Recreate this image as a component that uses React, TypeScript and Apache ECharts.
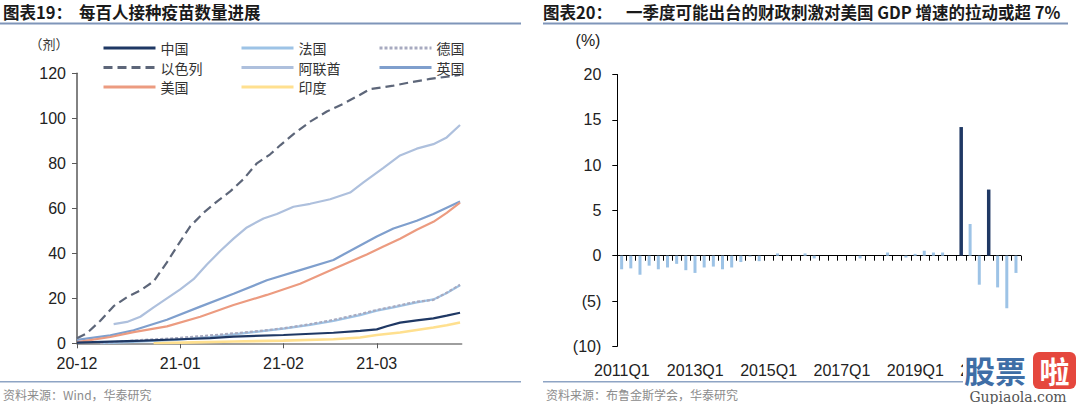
import React, { useEffect, useRef } from "react";
import * as echarts from "echarts";

// ---------- Left chart: doses per 100 people ----------
const israel: [string, number][] = [
  ["2020-12-20", 2.2], ["2020-12-23", 4.5], ["2020-12-27", 10], ["2020-12-31", 16.5],
  ["2021-01-04", 20.5], ["2021-01-08", 23.5], ["2021-01-12", 27.5], ["2021-01-16", 36],
  ["2021-01-19", 43], ["2021-01-23", 52], ["2021-01-27", 58], ["2021-01-31", 63],
  ["2021-02-04", 67.5], ["2021-02-08", 73], ["2021-02-12", 80], ["2021-02-16", 84],
  ["2021-02-19", 88], ["2021-02-23", 93], ["2021-02-28", 98.5], ["2021-03-05", 103],
  ["2021-03-10", 106.5], ["2021-03-15", 110.5], ["2021-03-18", 113], ["2021-03-25", 114.5],
  ["2021-03-30", 116], ["2021-04-05", 117.5], ["2021-04-14", 119.3],
];
const uae: [string, number][] = [
  ["2020-12-31", 8.5], ["2021-01-04", 9.5], ["2021-01-08", 11.8], ["2021-01-12", 16],
  ["2021-01-16", 20], ["2021-01-20", 24], ["2021-01-24", 28.5], ["2021-01-28", 35],
  ["2021-02-01", 41], ["2021-02-05", 46.5], ["2021-02-09", 51.5], ["2021-02-14", 55.5],
  ["2021-02-18", 57.5], ["2021-02-23", 60.7], ["2021-02-28", 62], ["2021-03-06", 64],
  ["2021-03-12", 67], ["2021-03-16", 71.5], ["2021-03-22", 78], ["2021-03-27", 83.5],
  ["2021-04-01", 86.5], ["2021-04-06", 88.5], ["2021-04-10", 91.5], ["2021-04-14", 97],
];
const uk: [string, number][] = [
  ["2020-12-20", 1.5], ["2020-12-30", 3.5], ["2021-01-06", 5.8], ["2021-01-16", 10.5],
  ["2021-01-26", 16.3], ["2021-02-05", 22], ["2021-02-15", 28], ["2021-02-25", 32.5],
  ["2021-03-07", 37], ["2021-03-10", 39.5], ["2021-03-15", 43.5], ["2021-03-20", 47.5],
  ["2021-03-25", 51], ["2021-03-30", 53.5], ["2021-04-01", 54.5], ["2021-04-06", 57.5],
  ["2021-04-14", 63],
];
const usa: [string, number][] = [
  ["2020-12-20", 0.5], ["2020-12-30", 2.8], ["2021-01-06", 5], ["2021-01-16", 7.5],
  ["2021-01-26", 11.8], ["2021-02-05", 17], ["2021-02-15", 21.5], ["2021-02-25", 26.5],
  ["2021-03-07", 33], ["2021-03-17", 39.5], ["2021-03-22", 43], ["2021-03-27", 46.5],
  ["2021-04-01", 50.5], ["2021-04-06", 54], ["2021-04-10", 58], ["2021-04-14", 62.5],
];
const germany: [string, number][] = [
  ["2020-12-27", 0.1], ["2021-01-09", 1.5], ["2021-01-19", 2.3], ["2021-01-29", 3.5],
  ["2021-02-05", 4.4], ["2021-02-13", 5.5], ["2021-02-20", 6.7], ["2021-02-28", 8.5],
  ["2021-03-07", 10.4], ["2021-03-15", 13], ["2021-03-20", 14.8], ["2021-03-25", 16.3],
  ["2021-04-01", 18.5], ["2021-04-06", 19.3], ["2021-04-10", 22.5], ["2021-04-14", 26],
];
const france: [string, number][] = [
  ["2020-12-27", 0], ["2021-01-09", 0.8], ["2021-01-19", 1.5], ["2021-01-29", 2.9],
  ["2021-02-05", 4], ["2021-02-13", 5.3], ["2021-02-20", 6.5], ["2021-02-28", 8.2],
  ["2021-03-07", 10], ["2021-03-15", 12.5], ["2021-03-20", 14.5], ["2021-03-25", 16],
  ["2021-04-01", 18.2], ["2021-04-06", 19.5], ["2021-04-10", 22.3], ["2021-04-14", 25.8],
];
const china: [string, number][] = [
  ["2020-12-20", 0.3], ["2021-01-09", 1.2], ["2021-01-20", 1.8], ["2021-01-29", 2.3],
  ["2021-02-05", 3], ["2021-02-20", 3.7], ["2021-03-07", 4.7], ["2021-03-15", 5.5],
  ["2021-03-20", 6.2], ["2021-03-23", 7.6], ["2021-03-27", 9.2], ["2021-04-01", 10.2],
  ["2021-04-06", 11.1], ["2021-04-10", 12.3], ["2021-04-14", 13.6],
];
const india: [string, number][] = [
  ["2021-01-12", 0], ["2021-01-24", 0.4], ["2021-02-05", 0.8], ["2021-02-20", 1.2],
  ["2021-03-07", 1.8], ["2021-03-15", 2.6], ["2021-03-20", 3.7], ["2021-03-27", 4.8],
  ["2021-04-01", 5.9], ["2021-04-06", 7], ["2021-04-10", 8], ["2021-04-14", 9.2],
];
const leftTickDates = ["2020-12-20", "2021-01-20", "2021-02-20", "2021-03-20"];
const leftAxisMin = "2020-12-20";
const leftAxisMax = "2021-04-14T12:00:00";
const legendCol1 = ["中国", "以色列", "美国"];
const legendCol2 = ["法国", "阿联酋", "印度"];
const legendCol3 = ["德国", "英国"];

// ---------- Right chart: fiscal impulse ----------
const quarters = [
  "2011Q1", "2011Q2", "2011Q3", "2011Q4", "2012Q1", "2012Q2", "2012Q3", "2012Q4",
  "2013Q1", "2013Q2", "2013Q3", "2013Q4", "2014Q1", "2014Q2", "2014Q3", "2014Q4",
  "2015Q1", "2015Q2", "2015Q3", "2015Q4", "2016Q1", "2016Q2", "2016Q3", "2016Q4",
  "2017Q1", "2017Q2", "2017Q3", "2017Q4", "2018Q1", "2018Q2", "2018Q3", "2018Q4",
  "2019Q1", "2019Q2", "2019Q3", "2019Q4", "2020Q1", "2020Q2", "2020Q3", "2020Q4",
  "2021Q1", "2021Q2", "2021Q3", "2021Q4",
];
const fiscalImpulse: (number | null)[] = [
  -1.5, -1.4, -2.1, -1.1, -1.5, -1.3, -0.9, -1.6,
  -1.9, -1.3, -1.2, -1.5, -1.3, -0.7, -0.1, -0.6,
  0, 0.25, 0, 0, 0.25, -0.3, 0, 0,
  0, 0, -0.3, 0, 0, 0.35, 0, -0.2,
  0.2, 0.55, 0.35, 0.35, 0, null, 3.5, -3.2,
  null, -3.5, -5.8, -1.9,
];
const stimulusPackages: (number | null)[] = [
  null, null, null, null, null, null, null, null,
  null, null, null, null, null, null, null, null,
  null, null, null, null, null, null, null, null,
  null, null, null, null, null, null, null, null,
  null, null, null, null, null, 14.2, null, null,
  7.3, null, null, null,
];

const ts = (s: string) => {
  const [d, t] = s.split("T");
  const [y, m, dd] = d.split("-").map(Number);
  let h = 0;
  if (t) h = Number(t.split(":")[0]);
  return Date.UTC(y, m - 1, dd, h);
};
const toPts = (arr: [string, number][]) => arr.map(([d, v]) => [ts(d), v]);

const CJK = "'Noto Sans CJK SC', sans-serif";
const LAT = "'Liberation Sans', Arial, sans-serif";

export default function App() {
  const ref = useRef<HTMLDivElement>(null);
  useEffect(() => {
    if (!ref.current) return;
    const chart = echarts.init(ref.current, undefined, { renderer: "svg" });

    const lineSeries = (
      name: string,
      data: [string, number][],
      color: string,
      width: number,
      type: any = "solid",
      z = 2
    ) => ({
      name,
      type: "line",
      xAxisIndex: 0,
      yAxisIndex: 0,
      data: toPts(data),
      symbol: "none",
      showSymbol: false,
      smooth: false,
      z,
      lineStyle: { color, width, type },
      itemStyle: { color },
    });

    const legendBase = {
      orient: "vertical",
      top: 36,
      itemWidth: 52,
      itemHeight: 14,
      itemGap: 5.5,
      itemTextGap: 6,
      itemStyle: { opacity: 0 },
      lineStyle: { width: 3 },
      textStyle: { fontFamily: CJK, fontSize: 14, color: "#333", lineHeight: 14 },
      selectedMode: false,
    };

    const tickVals = leftTickDates.map(ts);

    const option: any = {
      animation: false,
      backgroundColor: "#fff",
      textStyle: { fontFamily: LAT },
      grid: [
        { left: 77, top: 73.3, width: 384.7, height: 270 },
        { left: 617.3, top: 74.5, width: 403.5, height: 271.8 },
      ],
      legend: [
        { ...legendBase, left: 97, data: legendCol1 },
        { ...legendBase, left: 235, data: legendCol2 },
        { ...legendBase, left: 373, data: legendCol3 },
      ],
      xAxis: [
        {
          type: "value",
          gridIndex: 0,
          min: ts(leftAxisMin),
          max: ts(leftAxisMax),
          axisLine: { show: true, onZero: false, lineStyle: { color: "#7f7f7f", width: 1.5 } },
          axisTick: {
            show: true,
            length: 5,
            customValues: tickVals,
            lineStyle: { color: "#595959" },
          },
          axisLabel: {
            customValues: tickVals,
            fontSize: 16,
            color: "#222",
            margin: 12,
            fontFamily: LAT,
            formatter: (v: number) => {
              const d = new Date(v);
              const yy = String(d.getUTCFullYear()).slice(2);
              const mm = String(d.getUTCMonth() + 1).padStart(2, "0");
              return `${yy}-${mm}`;
            },
          },
          splitLine: { show: false },
        },
        {
          type: "category",
          gridIndex: 1,
          data: quarters,
          position: "bottom",
          axisLine: { show: false, onZero: false },
          axisTick: { show: false },
          axisLabel: { interval: 7, fontSize: 16, color: "#222", margin: 16, fontFamily: LAT },
          splitLine: { show: false },
        },
        {
          type: "category",
          gridIndex: 1,
          data: quarters,
          position: "top",
          axisLine: { show: true, onZero: true, lineStyle: { color: "#000", width: 1 } },
          axisTick: { show: true, inside: true, interval: 0, length: 5, lineStyle: { color: "#000" } },
          axisLabel: { show: false },
          splitLine: { show: false },
        },
      ],
      yAxis: [
        {
          type: "value",
          gridIndex: 0,
          min: 0,
          max: 120,
          interval: 20,
          axisLine: { show: true, lineStyle: { color: "#595959", width: 1.5 } },
          axisTick: { show: true, length: 5, lineStyle: { color: "#595959" } },
          axisLabel: { fontSize: 16, color: "#222", margin: 11, fontFamily: LAT },
          splitLine: { show: false },
        },
        {
          type: "value",
          gridIndex: 1,
          min: -10,
          max: 20,
          interval: 5,
          axisLine: { show: true, lineStyle: { color: "#000", width: 1 } },
          axisTick: { show: true, length: 5, lineStyle: { color: "#000" } },
          axisLabel: {
            fontSize: 16,
            color: "#222",
            margin: 16,
            fontFamily: LAT,
            formatter: (v: number) => (v < 0 ? `(${-v})` : `${v}`),
          },
          splitLine: { show: false },
        },
      ],
      series: [
        lineSeries("以色列", israel, "#5d6679", 2.2, [9, 5], 3),
        lineSeries("阿联酋", uae, "#aec0dd", 2.2),
        lineSeries("英国", uk, "#7f9fcd", 2.2),
        lineSeries("美国", usa, "#ec9b80", 2.2),
        lineSeries("法国", france, "#9dc3e6", 2.2),
        lineSeries("德国", germany, "#a7aac0", 2.2, [3, 2], 3),
        lineSeries("中国", china, "#1f3864", 2.2, "solid", 4),
        lineSeries("印度", india, "#ffe08f", 2.6, "solid", 4),
        {
          name: "财政刺激",
          type: "bar",
          xAxisIndex: 2,
          yAxisIndex: 1,
          data: fiscalImpulse,
          barWidth: 3,
          itemStyle: { color: "#9dc3e6" },
        },
        {
          name: "刺激法案",
          type: "bar",
          xAxisIndex: 2,
          yAxisIndex: 1,
          data: stimulusPackages,
          barWidth: 3.5,
          barGap: "-100%",
          itemStyle: { color: "#1f3864" },
        },
      ],
      graphic: [
        { type: "text", left: 3, top: 4, style: { text: "图表19：", font: `bold 16.5px ${CJK}`, fill: "#1a1a1a" } },
        { type: "text", left: 79, top: 4, style: { text: "每百人接种疫苗数量进展", font: `bold 16.5px ${CJK}`, fill: "#1a1a1a" } },
        { type: "rect", shape: { x: 0, y: 22.5, width: 521, height: 2 }, style: { fill: "#7f95b9" } },
        { type: "text", left: 543, top: 4, style: { text: "图表20：", font: `bold 16.5px ${CJK}`, fill: "#1a1a1a" } },
        {
          type: "text",
          left: 626,
          top: 4,
          style: { text: "一季度可能出台的财政刺激对美国 GDP 增速的拉动或超 7%", font: `bold 16.5px ${CJK}`, fill: "#1a1a1a" },
        },
        { type: "rect", shape: { x: 543, y: 22.5, width: 525, height: 2 }, style: { fill: "#7f95b9" } },
        { type: "text", x: 49, y: 43, style: { text: "（剂）", font: `13px ${CJK}`, fill: "#333", align: "center", verticalAlign: "middle" } },
        { type: "text", x: 588, y: 40, style: { text: "(%)", font: `16px ${LAT}`, fill: "#222", align: "center", verticalAlign: "middle" } },
        { type: "rect", shape: { x: 0, y: 381, width: 521, height: 1.5 }, style: { fill: "#8ea4c4" } },
        { type: "rect", shape: { x: 543, y: 381, width: 525, height: 1.5 }, style: { fill: "#8ea4c4" } },
        { type: "text", x: 3, y: 394, style: { text: "资料来源：Wind，华泰研究", font: `12px ${CJK}`, fill: "#8c8c8c", verticalAlign: "middle" } },
        { type: "text", x: 546, y: 394, style: { text: "资料来源：布鲁金斯学会，华泰研究", font: `12px ${CJK}`, fill: "#8c8c8c", verticalAlign: "middle" } },
        {
          type: "group",
          z: 100,
          children: [
            { type: "rect", z: 100, shape: { x: 963, y: 352, width: 117, height: 52 }, style: { fill: "#fff" } },
            { type: "text", z: 101, x: 964, y: 369, style: { text: "股票", font: `bold 31px ${CJK}`, fill: "#3f6ea6", verticalAlign: "middle" } },
            { type: "rect", z: 101, shape: { x: 1033, y: 352, width: 43, height: 37, r: 6 }, style: { fill: "#e5473d" } },
            { type: "text", z: 102, x: 1054.5, y: 370, style: { text: "啦", font: `bold 30px ${CJK}`, fill: "#fff", align: "center", verticalAlign: "middle" } },
            { type: "text", z: 101, x: 1018, y: 397, style: { text: "Gupiaola.com", font: `14px 'DejaVu Serif', serif`, fill: "#555", align: "center", verticalAlign: "middle" } },
          ],
        },
      ],
    };
    chart.setOption(option);
    return () => chart.dispose();
  }, []);
  return (
    <div
      ref={ref}
      style={{ position: "fixed", left: 0, top: 0, width: 1080, height: 404, background: "#fff" }}
    />
  );
}
